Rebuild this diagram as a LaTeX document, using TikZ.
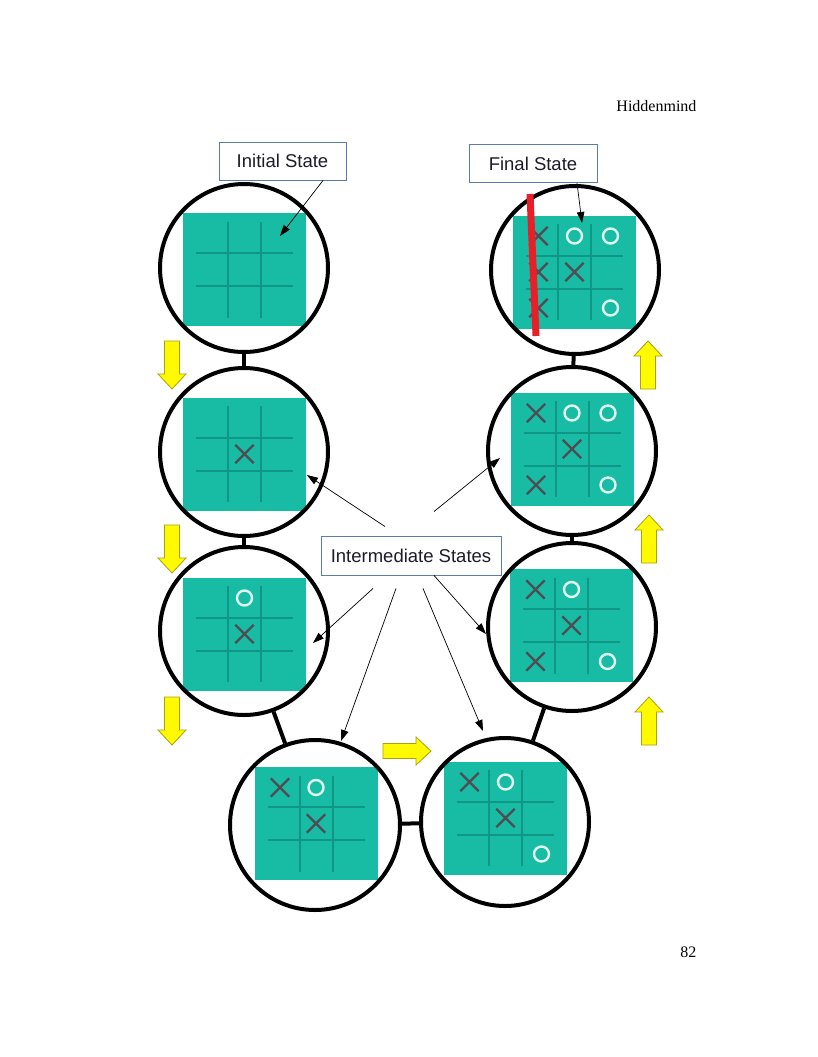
\documentclass[tikz,border=0pt]{standalone}
\usepackage{fontspec}
\setmainfont{Liberation Serif}
\newfontfamily\labelfont{Liberation Sans}
\usetikzlibrary{arrows.meta,positioning,shapes.misc}
\definecolor{boardfill}{RGB}{24,188,164}
\definecolor{gridcol}{RGB}{16,150,132}
\definecolor{xcol}{RGB}{80,76,84}
\definecolor{ocol}{RGB}{222,246,236}
\definecolor{boxline}{RGB}{92,122,170}
\definecolor{txtcol}{RGB}{28,28,40}
\definecolor{yfill}{RGB}{255,250,0}
\definecolor{yline}{RGB}{170,160,20}
\definecolor{redmark}{RGB}{232,30,40}
\tikzset{
  ring/.style  ={draw, circle, line width=4pt, minimum size=168pt, inner sep=0pt},
  board/.style ={fill=boardfill, minimum width=123pt, minimum height=113pt, inner sep=0pt},
  gridln/.style={draw=gridcol, line width=2pt},
  xm/.style    ={cross out, draw=xcol, line width=2.4pt, minimum size=16pt, inner sep=0pt},
  om/.style    ={circle, draw=ocol, line width=2.4pt, minimum size=15pt, inner sep=0pt},
  link/.style  ={line width=4pt},
  tag/.style   ={draw=boxline, line width=0.9pt, fill=white, text=txtcol, font=\labelfont\fontsize{18.5}{22}\selectfont,
                 minimum height=38pt, inner sep=0pt},
  ptr/.style   ={-{Triangle[length=11pt,width=7.5pt]}, line width=0.7pt},
  yarrow/.pic  ={\draw[fill=yfill, draw=yline, line width=0.8pt]
                 (-24,-7.5) -- (9,-7.5) -- (9,-14) -- (24,0) -- (9,14) -- (9,7.5) -- (-24,7.5) -- cycle;}
}

\begin{document}
\begin{tikzpicture}[x=1pt, y=-1pt]
  \useasboundingbox (0,0) rectangle (817,1057);
  \node[anchor=base east, font=\fontsize{16}{18}\selectfont] (head) at (700,111) {Hiddenmind};
  \node[anchor=base east, font=\fontsize{16}{18}\selectfont] (pagenum) at (700,957) {82};
  % boards
  \foreach \b/\bx/\by in {b1/244.5/269.5, b2/244.5/454, b3/244.5/634, b4/316/823.5,
                          b5/505.5/818, b6/571.5/625.5, b7/572/449, b8/574.5/272}{
    \node[board] (\b) at (\bx,\by) {};
    \foreach \d in {-16.5,16.5}{
      \draw[gridln] (\bx+\d,\by-48) -- (\bx+\d,\by+48);
      \draw[gridln] (\bx-48.5,\by+\d) -- (\bx+48.5,\by+\d);
    }
  }
  \foreach \b/\i/\j in {b2/0/0, b3/0/0, b4/-1/-1, b4/0/0, b5/-1/-1, b5/0/0,
                        b6/-1/-1, b6/0/0, b6/-1/1, b7/-1/-1, b7/0/0, b7/-1/1,
                        b8/-1/-1, b8/-1/0, b8/0/0, b8/-1/1}
    \path (\b) ++(\i*36,\j*36) node[xm] {};
  \foreach \b/\i/\j in {b3/0/-1, b4/0/-1, b5/0/-1, b5/1/1, b6/0/-1, b6/1/1,
                        b7/0/-1, b7/1/-1, b7/1/1, b8/0/-1, b8/1/-1, b8/1/1}
    \path (\b) ++(\i*36,\j*36) node[om] {};
  % rings
  \node[ring] (c1) at (244,268) {};
  \node[ring] (c2) at (244,452) {};
  \node[ring] (c3) at (244,631) {};
  \node[ring, minimum size=170pt] (c4) at (315,825) {};
  \node[ring] (c5) at (505,822) {};
  \node[ring] (c6) at (572,627) {};
  \node[ring] (c7) at (572,451) {};
  \node[ring] (c8) at (575,270) {};
  \draw[link] (c1) -- (c2);
  \draw[link] (c2) -- (c3);
  \draw[link] (c3) -- (c4);
  \draw[link] (c4) -- (c5);
  \draw[link] (c5) -- (c6);
  \draw[link] (c6) -- (c7);
  \draw[link] (c7) -- (c8);
  % yellow arrows
  \pic[rotate=-90] at (172,365) {yarrow};
  \pic[rotate=-90] at (172,549) {yarrow};
  \pic[rotate=-90] at (172,721) {yarrow};
  \pic at (407,751) {yarrow};
  \pic[rotate=90] at (648,365) {yarrow};
  \pic[rotate=90] at (649,539) {yarrow};
  \pic[rotate=90] at (649,721) {yarrow};
  % labels
  \node[tag, minimum width=127pt] (init) at (282.5,161) {Initial State};
  \node[tag, minimum width=128pt] (final) at (533,163.5) {Final State};
  \node[tag, minimum width=180pt, minimum height=39pt] (mid) at (411,555.5) {Intermediate States};
  \coordinate (t0) at (280,236);
  \coordinate (t1) at (582,223);
  \coordinate (t2) at (307,475);
  \coordinate (t3) at (500,458);
  \coordinate (t4) at (313,643);
  \coordinate (t5) at (341,741);
  \coordinate (t6) at (483,731);
  \coordinate (t7) at (486,634);
  \draw[ptr] ([xshift=40.5pt]init.south) -- (t0);
  \draw[ptr] ([xshift=44pt]final.south) -- (t1);
  \draw[ptr] ([xshift=-26pt,yshift=9pt]mid.north) -- (t2);
  \draw[ptr] ([xshift=23pt,yshift=24pt]mid.north) -- (t3);
  \draw[ptr] ([xshift=-38pt,yshift=-13pt]mid.south) -- (t4);
  \draw[ptr] ([xshift=-15pt,yshift=-13pt]mid.south) -- (t5);
  \draw[ptr] ([xshift=12pt,yshift=-13pt]mid.south) -- (t6);
  \draw[ptr] ([xshift=23pt]mid.south) -- (t7);
  % winning column
  \draw[redmark, line width=7pt] (530,194) -- (536,336);
\end{tikzpicture}
\end{document}
